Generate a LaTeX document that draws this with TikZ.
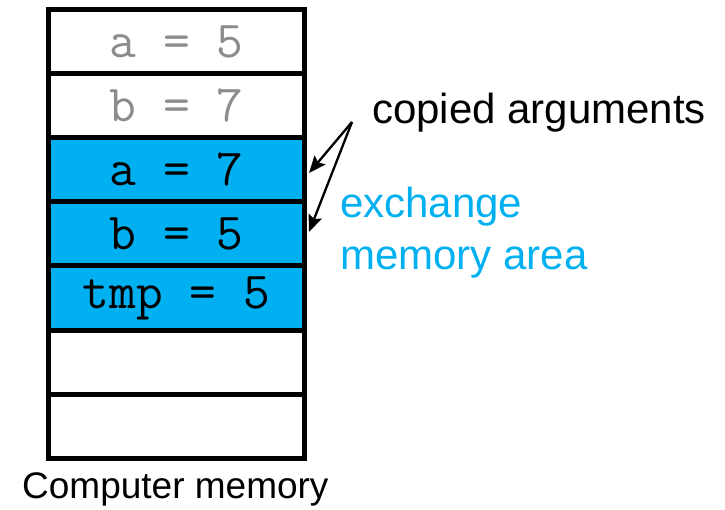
\documentclass[tikz,border=0pt]{standalone}
\usepackage{fontspec}
\setmainfont{Liberation Sans}
\usetikzlibrary{arrows.meta,calc}
\definecolor{memblue}{HTML}{00B0F0}
\definecolor{oldval}{HTML}{8C8C8C}
\begin{document}
\begin{tikzpicture}[x=1bp,y=-1bp,
  cell/.style={draw=black,line width=5bp,rectangle,inner sep=0pt,
    minimum width=255bp,minimum height=64bp,
    font=\ttfamily\fontsize{52bp}{56bp}\selectfont},
  stale/.style={cell,fill=white,text=oldval},
  active/.style={cell,fill=memblue,text=black},
  empty/.style={cell,fill=white},
  pointer/.style={line width=2.3bp,-{Stealth[length=17bp,width=14bp,inset=3bp]}},
  label/.style={inner sep=0pt,font=\fontsize{42bp}{52bp}\selectfont}]
\useasboundingbox (0,0) rectangle (725,510);
% memory cells, top to bottom
\node[stale]  (cell1) at (176.5,42)  {a = 5};
\node[stale]  (cell2) at (176.5,106) {b = 7};
\node[active] (cell3) at (176.5,170) {a = 7};
\node[active] (cell4) at (176.5,234) {b = 5};
\node[active] (cell5) at (176.5,298) {tmp = 5};
\node[empty]  (cell6) at (176.5,362) {};
\node[empty]  (cell7) at (176.5,426) {};
% labels
\node[label,anchor=base west] (copied) at (372,124) {copied arguments};
\node[label,anchor=base west,text=memblue,align=left] (area) at (340,270)
  {exchange\\memory area};
\node[inner sep=0pt,anchor=base west,font=\fontsize{37bp}{40bp}\selectfont]
  (caption) at (22,498) {Computer memory};
% pointers from the label to the copied cells
\coordinate (apex) at (352,122);
\draw[pointer] (apex) -- ($(cell3.east)+(2.5,3)$);
\draw[pointer] (apex) -- ($(cell4.east)+(2.5,-2)$);
\end{tikzpicture}
\end{document}
